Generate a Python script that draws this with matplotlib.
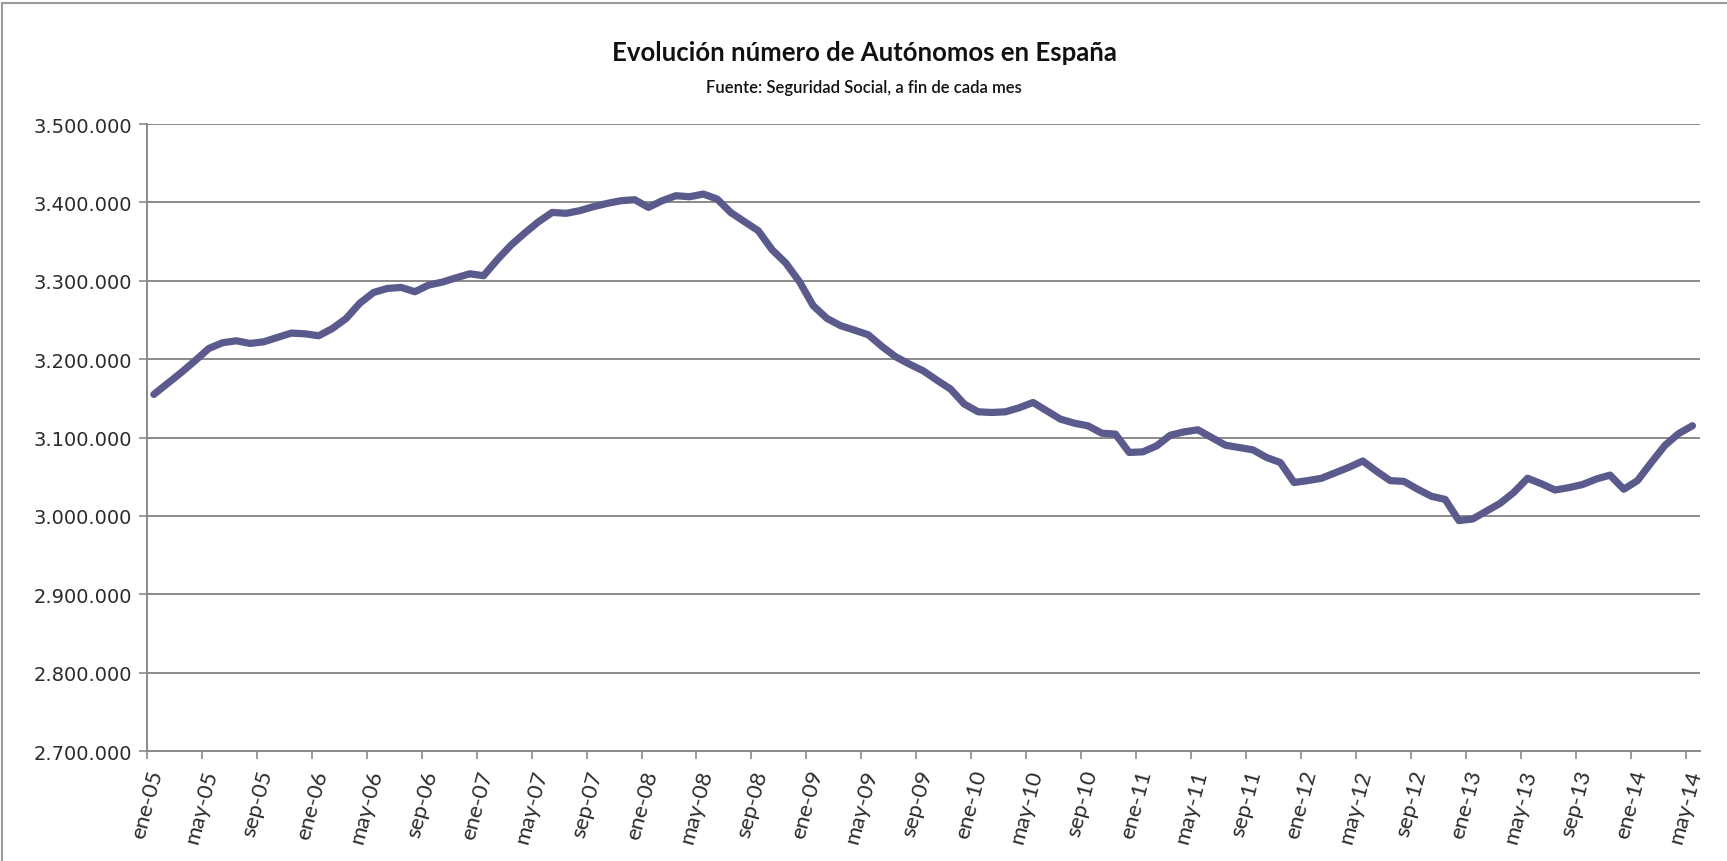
import matplotlib
matplotlib.use("Agg")
import matplotlib.pyplot as plt
from matplotlib.ticker import FuncFormatter, FixedLocator
from matplotlib.lines import Line2D

# autónomos afiliados, fin de mes, ene-05 .. may-14
autonomos = [
    3155000, 3169000, 3183000, 3198000, 3213600, 3220900, 3223400, 3220000,
    3222100, 3227700, 3233200, 3232300, 3229800, 3239100, 3251900, 3271500,
    3285100, 3290200, 3291500, 3286000, 3294500, 3298300, 3303800, 3308900,
    3306400, 3326800, 3345500, 3360900, 3375300, 3387200, 3386000, 3389400,
    3394500, 3398700, 3402100, 3403400, 3393600, 3402100, 3408500, 3407200,
    3410600, 3404300, 3387000, 3375300, 3363800, 3339600, 3322600, 3298700,
    3268100, 3251900, 3242600, 3237000, 3231100, 3216200, 3203000, 3193600,
    3185100, 3173200, 3161700, 3142600, 3132800, 3131900, 3132800, 3138000,
    3144700, 3134000, 3123400, 3118300, 3114900, 3105500, 3104300, 3080900,
    3081700, 3089400, 3103000, 3107200, 3109800, 3100000, 3090200, 3087200,
    3084300, 3074500, 3068100, 3042600, 3045000, 3048000, 3055000, 3062000,
    3070000, 3057000, 3045000, 3044000, 3034000, 3025000, 3021000, 2994000,
    2996000, 3006000, 3016000, 3030000, 3048000, 3041000, 3033000, 3036000,
    3040000, 3047000, 3052000, 3034000, 3045000, 3068000, 3090000, 3105000,
    3115000,
]

etiquetas_x = [
    "ene-05", "may-05", "sep-05", "ene-06", "may-06", "sep-06", "ene-07",
    "may-07", "sep-07", "ene-08", "may-08", "sep-08", "ene-09", "may-09",
    "sep-09", "ene-10", "may-10", "sep-10", "ene-11", "may-11", "sep-11",
    "ene-12", "may-12", "sep-12", "ene-13", "may-13", "sep-13", "ene-14",
    "may-14",
]

titulo = "Evolución número de Autónomos en España"
subtitulo = "Fuente: Seguridad Social, a fin de cada mes"

LINE_COLOR = "#5a5a8c"
GRID_COLOR = "#8a8a8a"
TEXT_COLOR = "#2b2b2b"

fig = plt.figure(figsize=(17.27, 8.62), dpi=100)
ax = fig.add_axes([147 / 1727, 1 - 752 / 862, (1700 - 147) / 1727, (752 - 125) / 862])

x = list(range(len(autonomos)))
ax.plot(x, autonomos, color=LINE_COLOR, linewidth=5.2, solid_joinstyle="round",
        solid_capstyle="round", zorder=3)

ax.set_xlim(-0.5, 112.55)
ax.set_ylim(2700000, 3500000)

# rejilla horizontal
yticks = list(range(2700000, 3500001, 100000))
ax.set_yticks(yticks)
ax.yaxis.set_major_formatter(FuncFormatter(lambda v, p: f"{int(v):,}".replace(",", ".")))
ax.grid(axis="y", color=GRID_COLOR, linewidth=1.4)
ax.set_axisbelow(True)

# ticks en los límites de las categorías, cada 4 meses
xtick_pos = [4 * k - 0.5 for k in range(len(etiquetas_x))]
ax.xaxis.set_major_locator(FixedLocator(xtick_pos))
ax.set_xticklabels(etiquetas_x, rotation=75, ha="right", va="top",
                   rotation_mode="anchor", fontsize=16, family="Lato", color=TEXT_COLOR)
for lab in ax.get_yticklabels():
    lab.set_fontsize(14)
    lab.set_family("DejaVu Sans")
    lab.set_color(TEXT_COLOR)

ax.tick_params(axis="x", length=6, width=1.2, color=GRID_COLOR, pad=6)
ax.tick_params(axis="y", length=6, width=1.2, color=GRID_COLOR, pad=5)

for side in ["top", "right"]:
    ax.spines[side].set_visible(False)
for side in ["left", "bottom"]:
    ax.spines[side].set_color(GRID_COLOR)
    ax.spines[side].set_linewidth(1.4)

fig.text(864 / 1727, 1 - 53 / 862, titulo, ha="center", va="center",
         fontsize=18.5, fontweight="bold", family="Lato", color="#111111")
fig.text(864 / 1727, 1 - 88 / 862, subtitulo, ha="center", va="center",
         fontsize=12, fontweight="semibold", family="Lato", color="#111111")

# borde del área del gráfico
fig.add_artist(Line2D([2 / 1727, 2 / 1727], [0, 1 - 4 / 862], transform=fig.transFigure,
                      color="#9a9a9a", linewidth=1.5))
fig.add_artist(Line2D([2 / 1727, 1], [1 - 4 / 862, 1 - 4 / 862], transform=fig.transFigure,
                      color="#9a9a9a", linewidth=1.5))

fig.savefig("out.png", dpi=100)
